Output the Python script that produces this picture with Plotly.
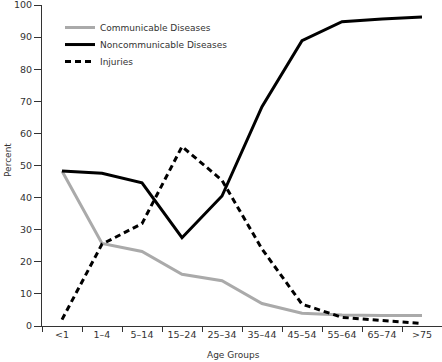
import plotly.graph_objects as go

age_groups = ["<1", "1\u20134", "5\u201314", "15\u201324", "25\u201334", "35\u201344",
              "45\u201354", "55\u201364", "65\u201374", ">75"]
communicable = [48.3, 25.7, 23.2, 16.1, 14.1, 7.0, 4.0, 3.4, 3.3, 3.3]
noncommunicable = [48.3, 47.6, 44.6, 27.5, 40.5, 68.3, 88.9, 94.8, 95.6, 96.3]
injuries = [2.0, 25.5, 31.9, 55.9, 45.4, 24.0, 6.8, 2.7, 1.7, 0.8]
y_ticks = [0, 10, 20, 30, 40, 50, 60, 70, 80, 90, 100]

FONT = "DejaVu Sans"
AX = "#333333"
TXT = "#333333"

fig = go.Figure()
fig.add_trace(go.Scatter(x=age_groups, y=communicable, mode="lines",
                         name="Communicable Diseases", legend="legend",
                         line=dict(color="#aaaaaa", width=3)))
fig.add_trace(go.Scatter(x=age_groups, y=noncommunicable, mode="lines",
                         name="Noncommunicable Diseases", legend="legend2",
                         line=dict(color="#000000", width=3)))
fig.add_trace(go.Scatter(x=age_groups, y=injuries, mode="lines",
                         name="Injuries", legend="legend3",
                         line=dict(color="#000000", width=3, dash="6px,4px")))


def leg(ypos):
    return dict(x=0.045, y=ypos, xanchor="left", yanchor="top",
                bgcolor="rgba(0,0,0,0)",
                font=dict(family=FONT, size=9, color=TXT), itemwidth=30)


fig.update_layout(
    width=442, height=362,
    margin=dict(l=42, r=0, t=5, b=36, autoexpand=False),
    paper_bgcolor="white", plot_bgcolor="white",
    font=dict(family=FONT, size=9.5, color=TXT),
    showlegend=True,
    legend=leg(0.975),
    legend2=leg(0.922),
    legend3=leg(0.869),
    xaxis=dict(type="category", range=[-0.5, 9.5], showline=True,
               linecolor=AX, linewidth=1, ticks="outside", tickson="boundaries",
               ticklen=5, tickcolor=AX, showgrid=False, zeroline=False,
               automargin=False, ticklabeloverflow="allow",
               tickfont=dict(family=FONT, size=9.5, color=TXT)),
    yaxis=dict(range=[0, 100], tickvals=y_ticks, showline=True,
               linecolor=AX, linewidth=1, ticks="outside", ticklen=7,
               tickcolor=AX, showgrid=False, zeroline=False,
               automargin=False, ticklabeloverflow="allow",
               tickfont=dict(family=FONT, size=9.5, color=TXT)),
    annotations=[
        dict(text="Age Groups", xref="paper", yref="paper", x=(233 - 42) / 400,
             y=(326 - 355) / 321, xanchor="center", yanchor="middle",
             showarrow=False, font=dict(family=FONT, size=9, color=TXT)),
        dict(text="Percent", xref="paper", yref="paper", x=-34 / 400,
             y=(326 - 160) / 321, xanchor="center", yanchor="middle",
             textangle=-90, showarrow=False,
             font=dict(family=FONT, size=9, color=TXT)),
    ],
)

fig.write_html("out.html",
               config={"displayModeBar": False},
               post_script="document.body.style.margin='0';"
                           "document.body.style.padding='0';"
                           "document.body.style.overflow='hidden';")
